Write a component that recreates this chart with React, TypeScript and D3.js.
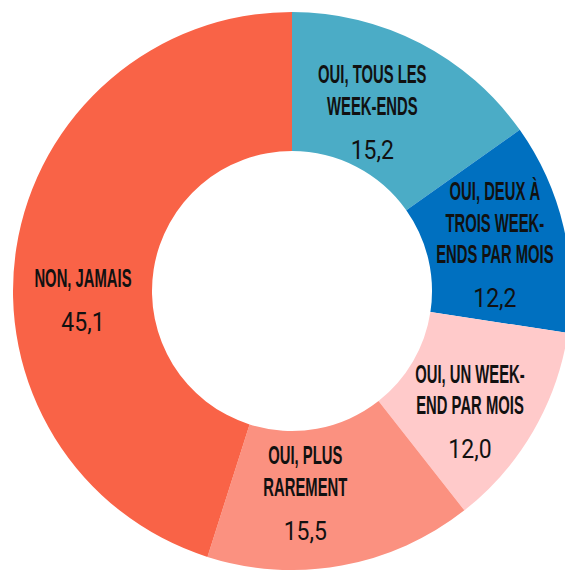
import React from 'react';
import * as d3 from 'd3';

// Share of respondents (%), clockwise from 12 o'clock
const categories: string[][] = [
  ['OUI, TOUS LES', 'WEEK-ENDS'],
  ['OUI, DEUX À', 'TROIS WEEK-', 'ENDS PAR MOIS'],
  ['OUI, UN WEEK-', 'END PAR MOIS'],
  ['OUI, PLUS', 'RAREMENT'],
  ['NON, JAMAIS'],
];
const values = [15.2, 12.2, 12.0, 15.5, 45.1];
const colors = ['#4BACC6', '#0070C0', '#FFCACA', '#FB9180', '#F96347'];

// label nudges relative to the arc centroid (layout only)
const labelNudge: [number, number][] = [
  [-16, 7],
  [-1, 2],
  [-3, 15],
  [-24, -4],
  [-2, 41],
];

const W = 565;
const H = 570;
const cx = 292;
const cy = 291;
const outerR = 279;
const innerR = 140;

const lineStep = 31.5;
const numberGap = 44;
const capH = 18;
const numH = 18;

const fmt = (v: number) => d3.format('.1f')(v).replace('.', ',');

export default function App() {
  const pie = d3.pie<number>().sort(null).value(d => d);
  const arcs = pie(values);
  const arc = d3.arc<d3.PieArcDatum<number>>().innerRadius(innerR).outerRadius(outerR);

  return (
    <div style={{ position: 'absolute', left: 0, top: 0 }}>
      <svg width={W} height={H} style={{ display: 'block' }}>
        <g transform={`translate(${cx},${cy})`}>
          {arcs.map((a, i) => (
            <path key={i} d={arc(a) || ''} fill={colors[i]} />
          ))}
          {arcs.map((a, i) => {
            const [x0, y0] = arc.centroid(a);
            const x = x0 + labelNudge[i][0];
            const lines = categories[i];
            const total = (lines.length - 1) * lineStep + numberGap + numH;
            const top = y0 + labelNudge[i][1] - total / 2;
            const numTop = top + (lines.length - 1) * lineStep + numberGap;
            return (
              <g key={'l' + i}>
                {lines.map((ln, j) => (
                  <text
                    key={j}
                    transform={`translate(${x},${top + j * lineStep + capH}) scale(0.57,1)`}
                    textAnchor="middle"
                    fontFamily="'Liberation Sans', Arial, sans-serif"
                    fontWeight="bold"
                    fontSize={26}
                    fill="#111"
                  >
                    {ln}
                  </text>
                ))}
                <text
                  transform={`translate(${x},${numTop + numH}) scale(0.92,1)`}
                  textAnchor="middle"
                  fontFamily="Roboto, 'Noto Sans', sans-serif"
                  fontSize={25}
                  fill="#111"
                >
                  {fmt(values[i])}
                </text>
              </g>
            );
          })}
        </g>
      </svg>
    </div>
  );
}
